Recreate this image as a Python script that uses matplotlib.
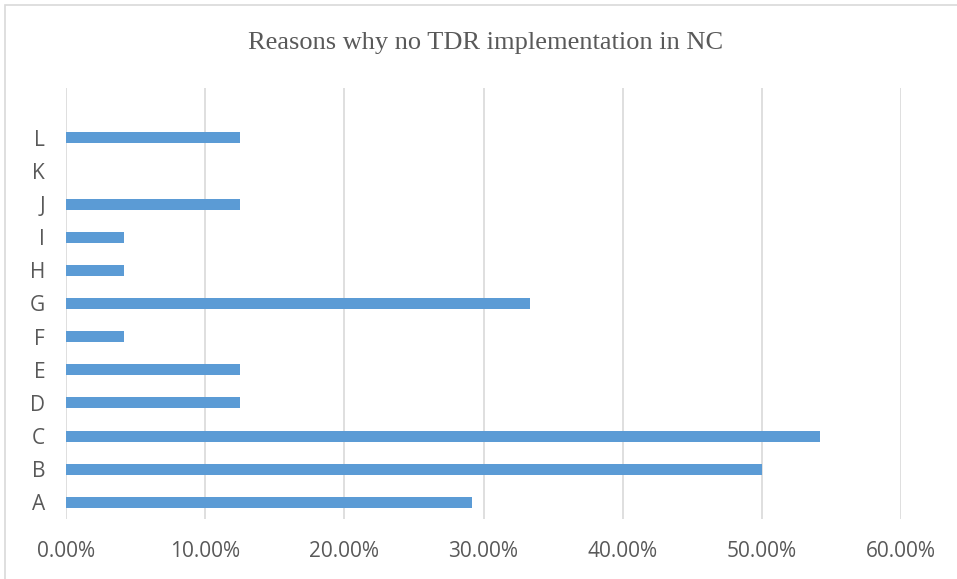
import matplotlib.pyplot as plt
from matplotlib.ticker import PercentFormatter
from matplotlib.patches import Rectangle

# Data (share of respondents, %)
categories = ["A", "B", "C", "D", "E", "F", "G", "H", "I", "J", "K", "L"]
percents = [29.17, 50.00, 54.17, 12.50, 12.50, 4.17, 33.33, 4.17, 4.17, 12.50, 0.0, 12.50]
x_ticks = [0, 10, 20, 30, 40, 50, 60]

fig = plt.figure(figsize=(9.57, 5.79), dpi=100)
ax = fig.add_axes([66 / 957, 1 - 519 / 579, (901 - 66) / 957, (519 - 88) / 579])

# outer chart border (Excel style)
fig.patches.append(Rectangle((5 / 957, -0.05), 1.1, 1 - 5 / 579 + 0.05,
                             transform=fig.transFigure, fill=False,
                             edgecolor="#D9D9D9", linewidth=1.2))

ax.barh(range(len(categories)), percents, height=0.33, color="#5B9BD5", zorder=3)

ax.set_xlim(0, 60)
ax.set_ylim(-0.5, 12.5)
ax.set_xticks(x_ticks)
ax.xaxis.set_major_formatter(PercentFormatter(decimals=2))
ax.set_yticks(range(len(categories)))
ax.set_yticklabels(categories)

ax.grid(axis="x", color="#D9D9D9", linewidth=1.2, zorder=0)
for side in ax.spines:
    ax.spines[side].set_visible(False)
ax.tick_params(length=0, labelsize=15, labelcolor="#595959")
ax.tick_params(axis="x", pad=16)
ax.tick_params(axis="y", pad=15)
for lbl in ax.get_xticklabels() + ax.get_yticklabels():
    lbl.set_fontfamily("Open Sans")

fig.text(0.507, 1 - 43 / 579, "Reasons why no TDR implementation in NC",
         ha="center", va="center", fontsize=19, color="#595959",
         family="Liberation Serif")

plt.savefig("out.png", dpi=100)
